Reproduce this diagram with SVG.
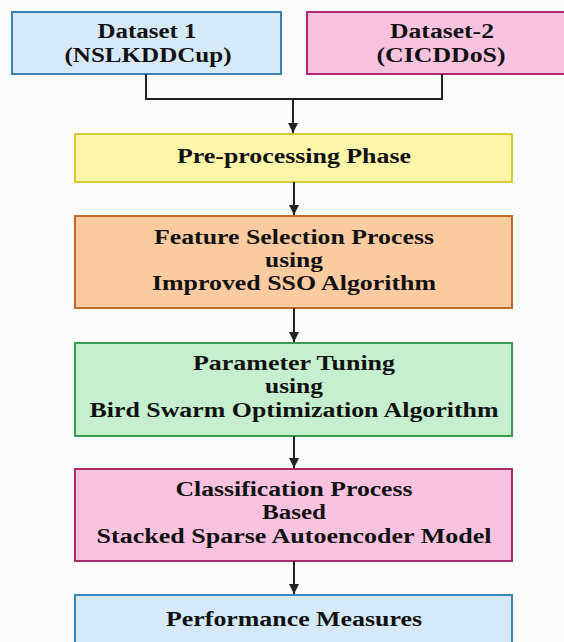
<svg xmlns="http://www.w3.org/2000/svg" width="564" height="642" viewBox="0 0 564 642">
<style>
text{font-family:"Liberation Serif","Times New Roman",serif;font-weight:bold;font-size:20px;fill:#111;text-anchor:middle}
.box{stroke-width:2}
.conn{fill:none;stroke:#222;stroke-width:2}
</style>
<defs>
<marker id="ah" markerUnits="userSpaceOnUse" markerWidth="10" markerHeight="10" refX="10" refY="5" orient="auto">
<path d="M0,0 L10,5 L0,10 z" fill="#222"/>
</marker>
</defs>
<rect width="564" height="642" fill="#fbfbfb"/>
<g id="dataset1">
<rect class="box" x="12" y="12" width="269" height="62" fill="#d6e9f8" stroke="#3b7fb3"/>
<text x="147" y="38" textLength="99" lengthAdjust="spacingAndGlyphs">Dataset 1</text>
<text x="148" y="62" textLength="167" lengthAdjust="spacingAndGlyphs">(NSLKDDCup)</text>
</g>
<g id="dataset2">
<rect class="box" x="307" y="12" width="270" height="62" fill="#f9c3e0" stroke="#b02a72"/>
<text x="442" y="38" textLength="104" lengthAdjust="spacingAndGlyphs">Dataset-2</text>
<text x="441" y="62" textLength="129" lengthAdjust="spacingAndGlyphs">(CICDDoS)</text>
</g>
<g id="preprocessing">
<rect class="box" x="75" y="134" width="437" height="48" fill="#fdf5a8" stroke="#d6c93c"/>
<text x="294" y="163" textLength="234" lengthAdjust="spacingAndGlyphs">Pre-processing Phase</text>
</g>
<g id="feature-selection">
<rect class="box" x="75" y="216" width="437" height="92" fill="#fdcba0" stroke="#c26a2c"/>
<text x="294" y="244" textLength="280" lengthAdjust="spacingAndGlyphs">Feature Selection Process</text>
<text x="294" y="267" textLength="58" lengthAdjust="spacingAndGlyphs">using</text>
<text x="294" y="290" textLength="284" lengthAdjust="spacingAndGlyphs">Improved SSO Algorithm</text>
</g>
<g id="parameter-tuning">
<rect class="box" x="75" y="343" width="437" height="93" fill="#c6efcf" stroke="#3c9a4c"/>
<text x="294" y="370" textLength="202" lengthAdjust="spacingAndGlyphs">Parameter Tuning</text>
<text x="294" y="393" textLength="58" lengthAdjust="spacingAndGlyphs">using</text>
<text x="294" y="417" textLength="409" lengthAdjust="spacingAndGlyphs">Bird Swarm Optimization Algorithm</text>
</g>
<g id="classification">
<rect class="box" x="75" y="469" width="437" height="92" fill="#f9c3e0" stroke="#aa2c6c"/>
<text x="294" y="496" textLength="237" lengthAdjust="spacingAndGlyphs">Classification Process</text>
<text x="294" y="519" textLength="64" lengthAdjust="spacingAndGlyphs">Based</text>
<text x="294" y="543" textLength="395" lengthAdjust="spacingAndGlyphs">Stacked Sparse Autoencoder Model</text>
</g>
<g id="performance">
<rect class="box" x="75" y="595" width="437" height="60" fill="#d6e9f8" stroke="#3b86b8"/>
<text x="294" y="626" textLength="256" lengthAdjust="spacingAndGlyphs">Performance Measures</text>
</g>
<g id="connectors">
<path class="conn" d="M146,74 V99 H442 V74"/>
<path class="conn" d="M293,99 V133" marker-end="url(#ah)"/>
<path class="conn" d="M294,182 V215" marker-end="url(#ah)"/>
<path class="conn" d="M294,308 V342" marker-end="url(#ah)"/>
<path class="conn" d="M294,436 V468" marker-end="url(#ah)"/>
<path class="conn" d="M294,561 V594" marker-end="url(#ah)"/>
</g>
</svg>
